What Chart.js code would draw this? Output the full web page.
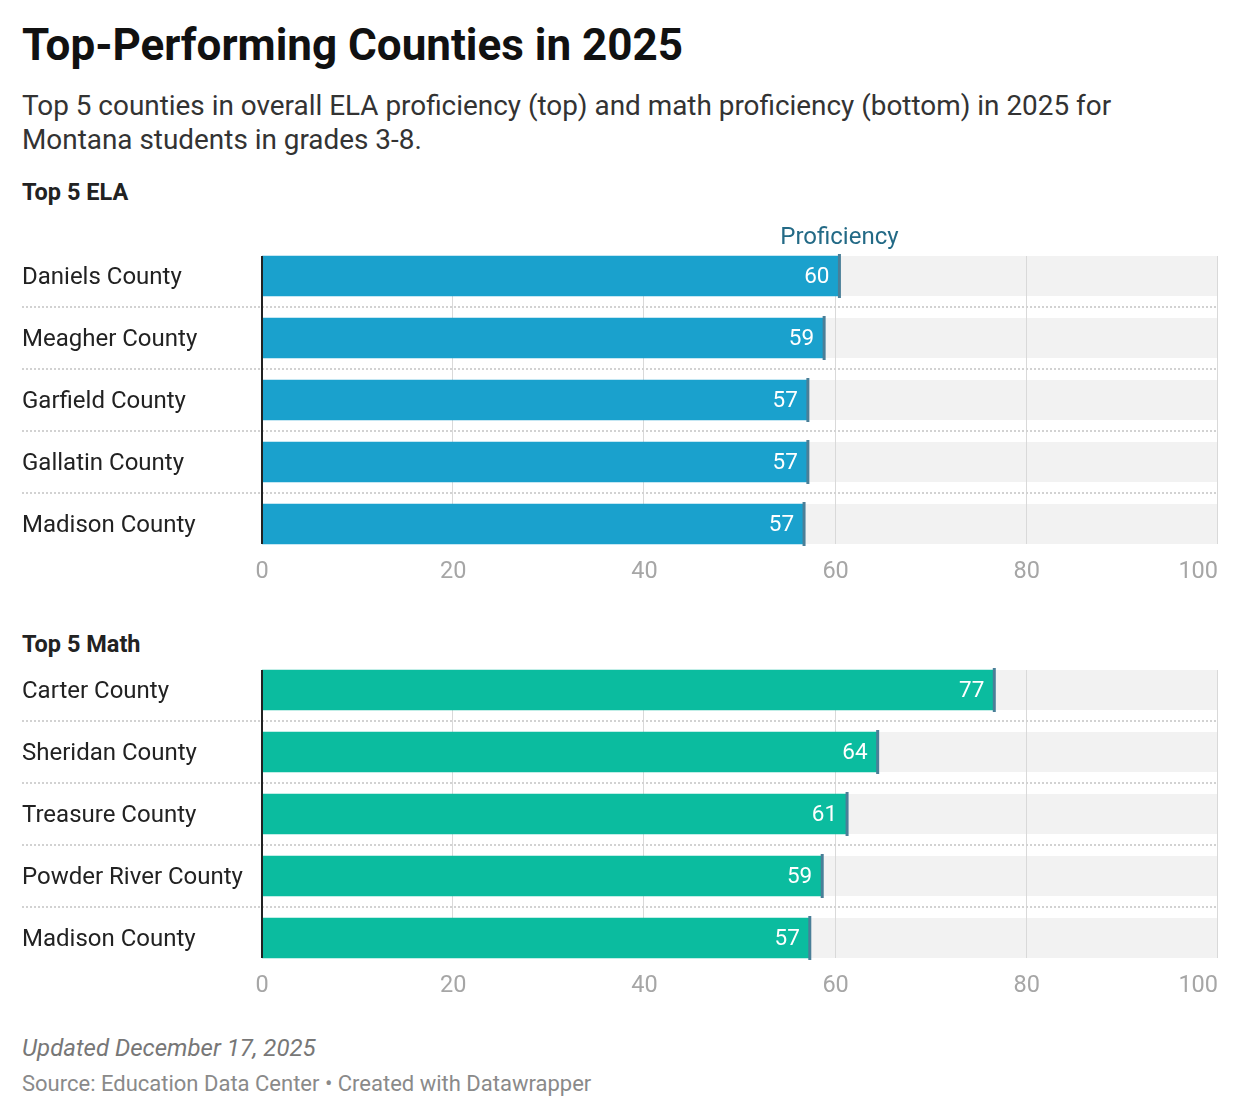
<!DOCTYPE html>
<html>
<head>
<meta charset="utf-8">
<script src="https://cdn.jsdelivr.net/npm/chart.js@4.4.0/dist/chart.umd.min.js"></script>
<style>
  body { margin: 0; background: #fff; font-family: Roboto, sans-serif; }
  #wrap { position: relative; width: 1240px; height: 1118px; overflow: hidden; }
  .t { position: absolute; left: 22px; margin: 0; white-space: nowrap; }
  #title { top: 20px; font-size: 44px; line-height: 50px; font-weight: 700; color: #111; }
  #sub { top: 89px; font-size: 27.9px; line-height: 34px; color: #333; }
  .sec { font-size: 23.5px; line-height: 28px; font-weight: 700; color: #222; }
  #note { top: 1034px; font-size: 24px; line-height: 28px; font-style: italic; color: #777; }
  #src { top: 1072px; font-size: 22px; line-height: 24px; color: #8a8a8a; }
  .box { position: absolute; left: 0; width: 1240px; height: 380px; }
</style>
</head>
<body>
<div id="wrap">
  <h1 class="t" id="title">Top-Performing Counties in 2025</h1>
  <p class="t" id="sub">Top 5 counties in overall ELA proficiency (top) and math proficiency (bottom) in 2025 for<br>Montana students in grades 3-8.</p>
  <p class="t sec" style="top:178px">Top 5 ELA</p>
  <p class="t sec" style="top:630px">Top 5 Math</p>
  <div class="box" style="top:215px"><canvas id="elaChart" width="1240" height="380"></canvas></div>
  <div class="box" style="top:629px"><canvas id="mathChart" width="1240" height="380"></canvas></div>
  <p class="t" id="note">Updated December 17, 2025</p>
  <p class="t" id="src">Source: Education Data Center • Created with Datawrapper</p>
</div>
<script>
// data
const elaCounties = ['Daniels County', 'Meagher County', 'Garfield County', 'Gallatin County', 'Madison County'];
const elaValues = [60.4, 58.8, 57.1, 57.1, 56.7];
const mathCounties = ['Carter County', 'Sheridan County', 'Treasure County', 'Powder River County', 'Madison County'];
const mathValues = [76.6, 64.4, 61.2, 58.6, 57.3];
const axisTicks = [0, 20, 40, 60, 80, 100];

// gray tracks, gridlines, separators, end markers and value labels
const rowDecor = {
  id: 'rowDecor',
  beforeDatasetsDraw(chart) {
    const { ctx, scales: { x } } = chart;
    const bars = chart.getDatasetMeta(0).data;
    const left = x.getPixelForValue(x.min), right = x.getPixelForValue(x.max);
    const top = bars[0].y - bars[0].height / 2;
    const last = bars[bars.length - 1];
    const bottom = last.y + last.height / 2;
    ctx.save();
    ctx.fillStyle = '#f2f2f2';
    bars.forEach(b => ctx.fillRect(left, b.y - b.height / 2, right - left, b.height));
    ctx.strokeStyle = '#d9d9d9';
    ctx.lineWidth = 1;
    x.ticks.forEach(t => {
      if (t.value === 0) return;
      const px = Math.round(x.getPixelForValue(t.value)) - 0.5;
      ctx.beginPath(); ctx.moveTo(px, top); ctx.lineTo(px, bottom); ctx.stroke();
    });
    ctx.restore();
  },
  afterDatasetsDraw(chart, args, opts) {
    const { ctx, scales: { x, y } } = chart;
    const bars = chart.getDatasetMeta(0).data;
    const values = chart.data.datasets[0].data;
    const right = x.getPixelForValue(x.max);
    ctx.save();
    // dotted row separators
    ctx.strokeStyle = '#d2d2d2';
    ctx.lineWidth = 2;
    ctx.setLineDash([2, 2]);
    for (let i = 1; i < bars.length; i++) {
      const yy = Math.round((y.getPixelForValue(i - 1) + y.getPixelForValue(i)) / 2);
      ctx.beginPath(); ctx.moveTo(22, yy); ctx.lineTo(right, yy); ctx.stroke();
    }
    ctx.setLineDash([]);
    // end markers + labels
    ctx.font = '22.5px Roboto';
    ctx.textAlign = 'right';
    ctx.textBaseline = 'middle';
    bars.forEach((b, i) => {
      ctx.strokeStyle = '#4a7f98';
      ctx.lineWidth = 3;
      ctx.beginPath();
      ctx.moveTo(b.x, b.y - b.height / 2 - 2);
      ctx.lineTo(b.x, b.y + b.height / 2 + 2);
      ctx.stroke();
      ctx.fillStyle = '#fff';
      ctx.fillText(String(Math.round(values[i])), b.x - 10, b.y + 1);
    });
    // zero axis line
    const x0 = x.getPixelForValue(0);
    const top = bars[0].y - bars[0].height / 2;
    const last = bars[bars.length - 1];
    ctx.strokeStyle = '#222';
    ctx.lineWidth = 2;
    ctx.beginPath(); ctx.moveTo(x0, top); ctx.lineTo(x0, last.y + last.height / 2); ctx.stroke();
    // column header over first marker
    if (opts.header) {
      ctx.font = '24px Roboto';
      ctx.fillStyle = '#236a86';
      ctx.textAlign = 'center';
      ctx.fillText(opts.header, bars[0].x, top - 18);
    }
    ctx.restore();
  }
};

function makeChart(id, labels, values, color, header) {
  return new Chart(document.getElementById(id), {
    type: 'bar',
    data: {
      labels,
      datasets: [{ data: values, backgroundColor: color, barThickness: 40, borderWidth: 0 }]
    },
    plugins: [rowDecor],
    options: {
      indexAxis: 'y',
      responsive: false,
      animation: false,
      layout: { padding: { left: 22, right: 22, top: 30, bottom: 10 } },
      plugins: {
        legend: { display: false },
        tooltip: { enabled: false },
        rowDecor: { header }
      },
      scales: {
        x: {
          min: 0, max: 100,
          afterBuildTicks: s => { s.ticks = axisTicks.map(v => ({ value: v })); },
          afterFit: s => { s.height = 30; s.paddingLeft = 0; s.paddingRight = 0; },
          grid: { display: false, drawTicks: false, tickLength: 0 },
          border: { display: false },
          ticks: {
            color: '#a6a6a6',
            font: { family: 'Roboto', size: 23.5 },
            padding: 3,
            maxRotation: 0,
            // last label sits flush with the right edge
            callback: v => v === 100 ? '100\u2007\u2007\u2007' : String(v)
          }
        },
        y: {
          afterFit: s => { s.width = 240; },
          grid: { display: false, drawTicks: false },
          border: { display: false },
          ticks: { color: '#222', crossAlign: 'far', padding: 0, labelOffset: 2, font: { family: 'Roboto', size: 24 } }
        }
      }
    }
  });
}

makeChart('elaChart', elaCounties, elaValues, '#1aa1cd', 'Proficiency');
makeChart('mathChart', mathCounties, mathValues, '#0bbc9f', null);
</script>
</body>
</html>
